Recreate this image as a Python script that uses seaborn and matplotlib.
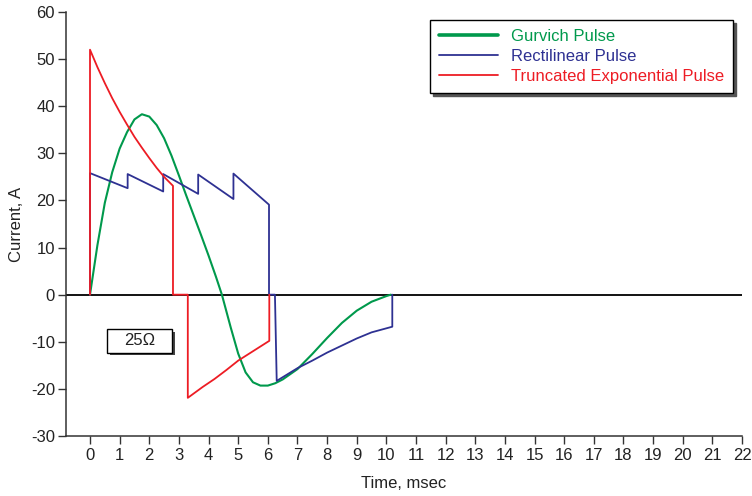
import numpy as np
import pandas as pd
import matplotlib
matplotlib.use("Agg")
import matplotlib.pyplot as plt
from matplotlib.patches import Rectangle
import seaborn as sns

# Defibrillation pulse waveforms at 25 ohm load (time in ms, current in A)
gurvich_t = [0, 0.25, 0.5, 0.75, 1.0, 1.25, 1.5, 1.75, 2.0, 2.25, 2.5, 2.75, 3.0,
             3.25, 3.5, 3.75, 4.0, 4.25, 4.45, 4.75, 5.0, 5.25, 5.5, 5.75, 6.0,
             6.25, 6.5, 7.0, 7.5, 8.0, 8.5, 9.0, 9.5, 10.0, 10.15]
gurvich_i = [0, 10.5, 19.5, 26.0, 31.0, 34.5, 37.2, 38.3, 37.8, 36.0, 33.2, 29.5, 25.3,
             21.0, 16.8, 12.6, 8.3, 3.8, 0.0, -7.0, -12.5, -16.5, -18.6, -19.3, -19.3,
             -18.8, -18.0, -15.8, -12.6, -9.2, -6.0, -3.4, -1.5, -0.3, 0.0]

rect_t = [0, 0, 1.27, 1.27, 2.47, 2.47, 3.65, 3.65, 4.84, 4.84, 6.04, 6.04,
          6.24, 6.3, 7.0, 7.5, 8.0, 8.5, 9.0, 9.5, 10.2, 10.2]
rect_i = [0, 25.8, 22.6, 25.6, 21.9, 25.6, 21.4, 25.5, 20.3, 25.7, 19.1, 0,
          0, -18.3, -15.6, -14.0, -12.3, -10.8, -9.3, -8.0, -6.8, 0]

trunc_t = [0, 0, 0.25, 0.5, 0.75, 1.0, 1.25, 1.5, 1.75, 2.0, 2.25, 2.5, 2.8, 2.8,
           3.3, 3.3, 3.8, 4.2, 4.6, 5.0, 5.5, 6.05, 6.05]
trunc_i = [0, 52.0, 48.3, 44.9, 41.7, 38.8, 36.1, 33.5, 31.2, 29.0, 26.9, 25.0, 23.1, 0,
           0, -21.9, -19.6, -17.9, -16.0, -14.0, -12.0, -9.8, 0]

x_ticks = list(range(0, 23))
y_ticks = list(range(-30, 61, 10))

GREEN = "#00994C"
BLUE = "#2E3192"
RED = "#ED1C24"
FS = 12

sns.set_theme(style="ticks")
plt.rcParams["font.family"] = ["Liberation Sans", "DejaVu Sans"]
plt.rcParams["axes.unicode_minus"] = False

fig = plt.figure(figsize=(7.52, 4.96), dpi=100)
ax = fig.add_axes([66 / 752, 1 - 436 / 496, (742 - 66) / 752, (436 - 12) / 496])

ax.axhline(0, color="black", lw=1.3, zorder=1)

series = [
    ("Gurvich Pulse", gurvich_t, gurvich_i, GREEN, 1.5),
    ("Rectilinear Pulse", rect_t, rect_i, BLUE, 1.3),
    ("Truncated Exponential Pulse", trunc_t, trunc_i, RED, 1.3),
]
for name, t, i, col, lw in series:
    df = pd.DataFrame({"t": t, "i": i})
    sns.lineplot(data=df, x="t", y="i", ax=ax, sort=False, estimator=None,
                 color=col, lw=lw, label=name, zorder=3)

ax.set_xlim(-0.81, 22)
ax.set_ylim(-30, 60)
ax.set_xticks(x_ticks)
ax.set_yticks(y_ticks)
ax.set_xlabel("Time, msec", fontsize=FS, color="#222222", labelpad=9)
ax.set_ylabel("Current, A", fontsize=FS, color="#222222", labelpad=5)
sns.despine(ax=ax)
for s in ("left", "bottom"):
    ax.spines[s].set_color("#333333")
    ax.spines[s].set_linewidth(1.1)
ax.tick_params(axis="both", direction="out", length=6, width=1, color="#333333",
               labelsize=FS, labelcolor="#222222", pad=2)
ax.tick_params(axis="x", pad=3)

# legend with drop shadow, text coloured like its line
handles, labels = ax.get_legend_handles_labels()
leg = ax.legend(handles, labels, loc="upper right",
                bbox_to_anchor=(733 / 752, 1 - 20 / 496), bbox_transform=fig.transFigure,
                borderaxespad=0, fancybox=False, frameon=True, edgecolor="black",
                framealpha=1, fontsize=FS, labelcolor="linecolor",
                handlelength=3.5, handletextpad=0.78, labelspacing=0.3,
                borderpad=0.55, shadow={"color": "#555555", "alpha": 1})
leg.get_frame().set_linewidth(1.0)
leg.legend_handles[0].set_linewidth(2.6)

# load annotation box with shadow
bx0, bx1 = 0.574, 2.77
by0, by1 = -12.31, -7.22
ax.add_patch(Rectangle((bx0 + 0.1, by0 - 0.6), bx1 - bx0, by1 - by0,
                       facecolor="#444444", edgecolor="none", zorder=4))
ax.add_patch(Rectangle((bx0, by0), bx1 - bx0, by1 - by0,
                       facecolor="white", edgecolor="black", lw=1.0, zorder=5))
ax.text((bx0 + bx1) / 2, (by0 + by1) / 2, "25\u03a9", ha="center", va="center",
        fontsize=FS, color="#222222", zorder=6)

fig.savefig("out.png", dpi=100)
